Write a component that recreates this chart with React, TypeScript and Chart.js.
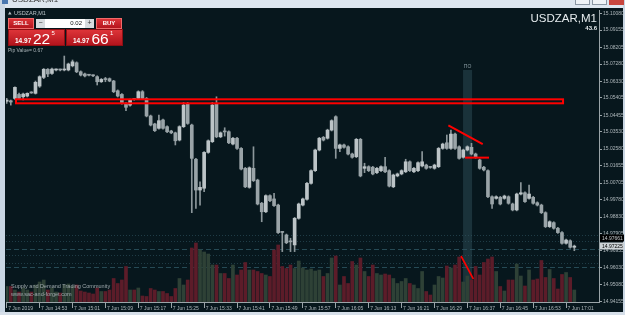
import React, { useEffect, useRef } from "react";
import { Chart, registerables } from "chart.js";

Chart.register(...registerables);

// ---- data (USDZAR, M1, 7 Jun 2019 14:45 .. 17:03) ----
const opens = [
  15.0522, 15.0525, 15.0538, 15.0560, 15.0547, 15.0551, 15.0569, 15.0566, 15.0606, 15.0654,
  15.0699, 15.0676, 15.0695, 15.0696, 15.0695, 15.0695, 15.0718, 15.0735, 15.0685, 15.0673,
  15.0667, 15.0664, 15.0658, 15.0630, 15.0643, 15.0647, 15.0634, 15.0580, 15.0560, 15.0511,
  15.0501, 15.0533, 15.0538, 15.0575, 15.0538, 15.0441, 15.0397, 15.0373, 15.0419, 15.0382,
  15.0358, 15.0348, 15.0308, 15.0382, 15.0511, 15.0391, 15.0202, 15.0032, 15.0042, 15.0240,
  15.0299, 15.0511, 15.0326, 15.0354, 15.0354, 15.0286, 15.0318, 15.0262, 15.0152, 15.0047,
  15.0152, 15.0087, 14.9959, 14.9912, 15.0001, 14.9983, 14.9949, 14.9799, 14.9784, 14.9747,
  14.9729, 14.9876, 14.9949, 14.9981, 15.0069, 15.0139, 15.0253, 15.0323, 15.0318, 15.0363,
  15.0437, 15.0262, 15.0281, 15.0271, 15.0231, 15.0216, 15.0312, 15.0152, 15.0161, 15.0158,
  15.0128, 15.0139, 15.0161, 15.0139, 15.0050, 15.0110, 15.0121, 15.0133, 15.0188, 15.0133,
  15.0139, 15.0165, 15.0170, 15.0158, 15.0152, 15.0161, 15.0262, 15.0293, 15.0262, 15.0341,
  15.0271, 15.0213, 15.0253, 15.0268, 15.0231, 15.0198, 15.0158, 15.0139, 14.9995, 14.9986,
  14.9992, 14.9986, 14.9995, 14.9955, 14.9922, 15.0010, 15.0017, 14.9986, 14.9992, 14.9962,
  14.9949, 14.9907, 14.9830, 14.9852, 14.9821, 14.9797, 14.9738, 14.9752, 14.9716,
];
const highs = [
  15.0538, 15.0529, 15.0602, 15.0568, 15.0568, 15.0569, 15.0575, 15.0634, 15.0663, 15.0703,
  15.0703, 15.0705, 15.0701, 15.0700, 15.0772, 15.0733, 15.0750, 15.0740, 15.0690, 15.0678,
  15.0671, 15.0668, 15.0663, 15.0648, 15.0654, 15.0651, 15.0638, 15.0585, 15.0565, 15.0515,
  15.0534, 15.0537, 15.0580, 15.0581, 15.0543, 15.0446, 15.0401, 15.0446, 15.0424, 15.0387,
  15.0362, 15.0352, 15.0387, 15.0516, 15.0516, 15.0396, 15.0207, 15.0078, 15.0245, 15.0309,
  15.0516, 15.0547, 15.0353, 15.0376, 15.0359, 15.0323, 15.0323, 15.0267, 15.0157, 15.0160,
  15.0271, 15.0092, 14.9964, 15.0006, 15.0006, 15.0014, 14.9954, 14.9803, 14.9789, 14.9766,
  14.9881, 14.9960, 14.9988, 15.0074, 15.0144, 15.0258, 15.0323, 15.0328, 15.0368, 15.0420,
  15.0442, 15.0286, 15.0286, 15.0276, 15.0236, 15.0317, 15.0317, 15.0180, 15.0166, 15.0163,
  15.0157, 15.0166, 15.0213, 15.0144, 15.0120, 15.0126, 15.0144, 15.0202, 15.0193, 15.0157,
  15.0188, 15.0244, 15.0175, 15.0162, 15.0175, 15.0267, 15.0291, 15.0336, 15.0363, 15.0346,
  15.0276, 15.0258, 15.0276, 15.0290, 15.0236, 15.0203, 15.0163, 15.0144, 15.0000, 15.0000,
  14.9997, 15.0004, 15.0000, 14.9960, 15.0015, 15.0073, 15.0022, 15.0060, 14.9997, 14.9967,
  14.9954, 14.9912, 14.9862, 14.9857, 14.9826, 14.9802, 14.9761, 14.9757, 14.9728,
];
const lows = [
  15.0511, 15.0501, 15.0533, 15.0533, 15.0529, 15.0546, 15.0566, 15.0562, 15.0599, 15.0647,
  15.0658, 15.0670, 15.0690, 15.0690, 15.0690, 15.0690, 15.0712, 15.0680, 15.0662, 15.0656,
  15.0662, 15.0658, 15.0612, 15.0626, 15.0630, 15.0630, 15.0570, 15.0546, 15.0506, 15.0470,
  15.0495, 15.0528, 15.0533, 15.0533, 15.0436, 15.0386, 15.0355, 15.0368, 15.0368, 15.0349,
  15.0343, 15.0281, 15.0303, 15.0377, 15.0395, 14.9907, 14.9931, 14.9949, 15.0023, 15.0235,
  15.0294, 15.0321, 15.0321, 15.0330, 15.0288, 15.0281, 15.0257, 15.0143, 15.0045, 15.0042,
  15.0079, 14.9950, 14.9857, 14.9907, 14.9968, 14.9941, 14.9792, 14.9692, 14.9736, 14.9692,
  14.9692, 14.9871, 14.9944, 14.9976, 15.0064, 15.0134, 15.0248, 15.0303, 15.0313, 15.0358,
  15.0207, 15.0244, 15.0263, 15.0226, 15.0208, 15.0211, 15.0105, 15.0128, 15.0134, 15.0116,
  15.0123, 15.0134, 15.0128, 15.0049, 15.0045, 15.0105, 15.0116, 15.0128, 15.0134, 15.0128,
  15.0134, 15.0160, 15.0147, 15.0152, 15.0147, 15.0156, 15.0257, 15.0257, 15.0257, 15.0257,
  15.0202, 15.0208, 15.0248, 15.0226, 15.0208, 15.0147, 15.0138, 14.9990, 14.9931, 14.9981,
  14.9950, 14.9981, 14.9954, 14.9917, 14.9917, 15.0005, 14.9963, 14.9981, 14.9954, 14.9944,
  14.9902, 14.9825, 14.9825, 14.9816, 14.9792, 14.9733, 14.9733, 14.9711, 14.9697,
];
const closes = [
  15.0529, 15.0518, 15.0599, 15.0538, 15.0562, 15.0566, 15.0568, 15.0627, 15.0658, 15.0699,
  15.0673, 15.0700, 15.0697, 15.0695, 15.0696, 15.0728, 15.0740, 15.0685, 15.0667, 15.0662,
  15.0666, 15.0663, 15.0630, 15.0643, 15.0642, 15.0634, 15.0575, 15.0551, 15.0511, 15.0489,
  15.0529, 15.0532, 15.0575, 15.0538, 15.0441, 15.0391, 15.0360, 15.0415, 15.0373, 15.0354,
  15.0348, 15.0304, 15.0382, 15.0501, 15.0400, 15.0207, 15.0032, 15.0047, 15.0240, 15.0304,
  15.0501, 15.0326, 15.0348, 15.0353, 15.0293, 15.0318, 15.0262, 15.0148, 15.0050, 15.0155,
  15.0084, 14.9955, 14.9912, 15.0001, 14.9973, 14.9946, 14.9797, 14.9798, 14.9741, 14.9746,
  14.9876, 14.9955, 14.9983, 15.0069, 15.0139, 15.0253, 15.0318, 15.0308, 15.0363, 15.0415,
  15.0262, 15.0281, 15.0268, 15.0231, 15.0213, 15.0312, 15.0110, 15.0161, 15.0139, 15.0121,
  15.0152, 15.0161, 15.0133, 15.0054, 15.0115, 15.0121, 15.0139, 15.0188, 15.0139, 15.0152,
  15.0183, 15.0188, 15.0152, 15.0157, 15.0170, 15.0262, 15.0286, 15.0262, 15.0341, 15.0262,
  15.0207, 15.0253, 15.0271, 15.0231, 15.0213, 15.0152, 15.0143, 14.9995, 14.9955, 14.9995,
  14.9955, 14.9999, 14.9959, 14.9922, 15.0010, 15.0017, 14.9968, 15.0010, 14.9959, 14.9949,
  14.9907, 14.9830, 14.9857, 14.9821, 14.9797, 14.9738, 14.9756, 14.9716, 14.97225,
];
const volumes = [
  31, 31, 24, 20, 28, 24, 20, 34, 40, 44, 24, 28, 20, 18, 34, 36, 32, 34, 22, 20,
  18, 16, 28, 21, 21, 24, 47, 37, 44, 71, 24, 24, 28, 12, 11, 27, 24, 21, 21, 17,
  11, 27, 47, 34, 44, 108, 118, 104, 100, 96, 74, 74, 57, 57, 47, 74, 54, 64, 79, 64,
  64, 61, 57, 54, 51, 104, 114, 71, 67, 74, 67, 82, 68, 64, 66, 62, 64, 51, 57, 88,
  92, 34, 51, 37, 81, 74, 88, 61, 51, 74, 57, 54, 56, 54, 47, 37, 41, 47, 37, 34,
  27, 61, 21, 14, 34, 51, 48, 72, 68, 74, 90, 40, 52, 44, 71, 54, 79, 86, 90, 61,
  31, 22, 44, 44, 76, 52, 32, 64, 44, 46, 83, 49, 65, 47, 26, 55, 59, 49, 24,
];

const timeLabels = [
  "7 Jun 2019", "7 Jun 14:53", "7 Jun 15:01", "7 Jun 15:09", "7 Jun 15:17", "7 Jun 15:25",
  "7 Jun 15:33", "7 Jun 15:41", "7 Jun 15:49", "7 Jun 15:57", "7 Jun 16:05", "7 Jun 16:13",
  "7 Jun 16:21", "7 Jun 16:29", "7 Jun 16:37", "7 Jun 16:45", "7 Jun 16:53", "7 Jun 17:01",
];
const timeTickIndex = [0, 8, 16, 24, 32, 40, 48, 56, 64, 72, 80, 88, 96, 104, 112, 120, 128, 136];
const priceTicks = [
  15.1008, 15.09155, 15.08205, 15.0728, 15.0633, 15.05405, 15.04455, 15.0353, 15.0258,
  15.01655, 15.00705, 14.9978, 14.9883, 14.97905, 14.96955, 14.9603, 14.9508, 14.94155,
];
const bidPrice = 14.97225;
const askPrice = 14.97661;
const levelPrices = [14.9784, 14.9751, 14.9707, 14.9673, 14.9629, 14.9607];

// drawn objects (in data units: bar index / price / volume)
const zoneIdx = [2.26, 135.26];
const zonePrice = [15.0533, 15.0511];
const trendIdx = [107.37, 115.73];
const trendPrice = [15.0389, 15.0286];
const flatIdx = [111.43, 117.26];
const flatPrice = 15.0211;
const volLineIdx = [110.46, 113.45];
const volLineVal = [92, 46];
const bandIdx = [110.95, 113.14];

const FONT = '"Liberation Sans", Arial, sans-serif';

export default function App() {
  const ref = useRef<HTMLCanvasElement>(null);

  useEffect(() => {
    const canvas = ref.current!;
    const idx = opens.map((_, i) => i);
    const bull = idx.map((i) => closes[i] >= opens[i]);

    const redGrad = (ctx: CanvasRenderingContext2D, y0: number, y1: number) => {
      const g = ctx.createLinearGradient(0, y0, 0, y1);
      g.addColorStop(0, "#e0363a");
      g.addColorStop(1, "#b0121b");
      return g;
    };

    const decor = {
      id: "decor",
      beforeDraw(chart: any) {
        const { ctx, width, height } = chart;
        ctx.save();
        ctx.fillStyle = "#07171d";
        ctx.fillRect(0, 0, width, height);
        // window frame
        ctx.fillStyle = "#dde6ef";
        ctx.fillRect(0, 0, width, 8);
        ctx.fillStyle = "#c9d6e3";
        ctx.fillRect(0, 0, 5, height);
        ctx.fillRect(623, 0, 2, height);
        ctx.fillStyle = "#d6dfe9";
        ctx.fillRect(0, 312, width, 3);
        // title (cut off by the top of the picture)
        ctx.fillStyle = "#4a78b0";
        ctx.fillRect(2, 0, 6, 4);
        ctx.fillStyle = "#333";
        ctx.font = `8px ${FONT}`;
        ctx.textBaseline = "middle";
        ctx.textAlign = "left";
        ctx.fillText("USDZAR,M1", 12, -0.5);
        // window buttons
        ctx.fillStyle = "#eef2f6";
        ctx.fillRect(575, 0, 15, 5);
        ctx.fillRect(592, 0, 15, 5);
        ctx.strokeStyle = "#8a96a3";
        ctx.lineWidth = 1;
        ctx.strokeRect(575.5, -1, 14, 5.5);
        ctx.strokeRect(592.5, -1, 14, 5.5);
        ctx.fillStyle = "#c8463e";
        ctx.fillRect(609, 0, 15, 5);
        ctx.restore();
      },
      beforeDatasetsDraw(chart: any) {
        const { ctx, chartArea, scales } = chart;
        const x = scales.x, y = scales.y;
        ctx.save();
        // level lines
        ctx.lineWidth = 1;
        levelPrices.forEach((p, k) => {
          const yy = Math.round(y.getPixelForValue(p)) + 0.5;
          ctx.strokeStyle = k % 3 === 2 ? "rgba(50,92,104,0.75)" : "rgba(45,80,92,0.65)";
          ctx.setLineDash(k % 3 === 2 ? [5, 3] : [1, 2]);
          ctx.beginPath();
          ctx.moveTo(chartArea.left, yy);
          ctx.lineTo(chartArea.right, yy);
          ctx.stroke();
        });
        ctx.setLineDash([]);
        // shaded band
        const b0 = x.getPixelForValue(bandIdx[0]);
        const b1 = x.getPixelForValue(bandIdx[1]);
        ctx.fillStyle = "rgba(50,85,95,0.45)";
        ctx.fillRect(b0, 70, b1 - b0, chartArea.bottom - 70);
        ctx.fillStyle = "#8b9da4";
        ctx.font = `5px ${FONT}`;
        ctx.textAlign = "center";
        ctx.textBaseline = "middle";
        ctx.fillText("ПО", (b0 + b1) / 2, 66.5);
        ctx.restore();
      },
      afterDatasetsDraw(chart: any) {
        const { ctx, scales } = chart;
        const x = scales.x, y = scales.y, yv = scales.yv;
        ctx.save();
        ctx.strokeStyle = "#ff0000";
        ctx.lineWidth = 2;
        const zx0 = x.getPixelForValue(zoneIdx[0]);
        const zx1 = x.getPixelForValue(zoneIdx[1]);
        const zy0 = y.getPixelForValue(zonePrice[0]);
        const zy1 = y.getPixelForValue(zonePrice[1]);
        ctx.strokeRect(zx0, zy0, zx1 - zx0, zy1 - zy0);
        ctx.beginPath();
        ctx.moveTo(x.getPixelForValue(trendIdx[0]), y.getPixelForValue(trendPrice[0]));
        ctx.lineTo(x.getPixelForValue(trendIdx[1]), y.getPixelForValue(trendPrice[1]));
        ctx.stroke();
        ctx.beginPath();
        ctx.moveTo(x.getPixelForValue(flatIdx[0]), y.getPixelForValue(flatPrice));
        ctx.lineTo(x.getPixelForValue(flatIdx[1]), y.getPixelForValue(flatPrice));
        ctx.stroke();
        ctx.lineWidth = 1.6;
        ctx.beginPath();
        ctx.moveTo(x.getPixelForValue(volLineIdx[0]), yv.getPixelForValue(volLineVal[0]));
        ctx.lineTo(x.getPixelForValue(volLineIdx[1]), yv.getPixelForValue(volLineVal[1]));
        ctx.stroke();
        ctx.restore();
      },
      afterDraw(chart: any) {
        const { ctx, scales } = chart;
        const y = scales.y;
        ctx.save();
        // top-left symbol header
        ctx.fillStyle = "#b8c2c6";
        ctx.beginPath();
        ctx.moveTo(8, 14.5);
        ctx.lineTo(9.8, 11.5);
        ctx.lineTo(11.6, 14.5);
        ctx.closePath();
        ctx.fill();
        ctx.font = `5.5px ${FONT}`;
        ctx.textAlign = "left";
        ctx.textBaseline = "middle";
        ctx.fillText("USDZAR,M1", 14, 13.3);

        // one-click trading panel
        ctx.fillStyle = redGrad(ctx, 18, 29);
        ctx.fillRect(8, 18, 26, 11);
        ctx.fillRect(96, 18, 26, 11);
        ctx.strokeStyle = "#f06a6a";
        ctx.lineWidth = 1;
        ctx.strokeRect(8.5, 18.5, 25, 10);
        ctx.strokeRect(96.5, 18.5, 25, 10);
        ctx.fillStyle = "#d8dcdf";
        ctx.fillRect(36, 19, 9, 9);
        ctx.fillRect(85, 19, 9, 9);
        ctx.fillStyle = "#ffffff";
        ctx.fillRect(45, 19, 40, 9);
        ctx.fillStyle = "#ffffff";
        ctx.font = `bold 6px ${FONT}`;
        ctx.textAlign = "center";
        ctx.fillText("SELL", 21, 23.8);
        ctx.fillText("BUY", 109, 23.8);
        ctx.fillStyle = "#333";
        ctx.font = `7px ${FONT}`;
        ctx.fillText("−", 40.5, 23.5);
        ctx.fillText("+", 89.5, 23.5);
        ctx.textAlign = "right";
        ctx.font = `6px ${FONT}`;
        ctx.fillStyle = "#111";
        ctx.fillText("0.02", 82, 23.8);

        ctx.fillStyle = redGrad(ctx, 29, 46);
        ctx.fillRect(8, 29, 57, 17);
        ctx.fillRect(66, 29, 57, 17);
        ctx.strokeStyle = "#8e0f14";
        ctx.strokeRect(8.5, 29.5, 56, 16);
        ctx.strokeRect(66.5, 29.5, 56, 16);
        ctx.fillStyle = "#ffffff";
        ctx.textAlign = "left";
        ctx.textBaseline = "alphabetic";
        ctx.font = `bold 6.5px ${FONT}`;
        ctx.fillText("14.97", 15, 43.3);
        ctx.fillText("14.97", 73, 43.3);
        ctx.font = `15.5px ${FONT}`;
        ctx.fillText("22", 33, 43.6);
        ctx.fillText("66", 91.5, 43.6);
        ctx.font = `6px ${FONT}`;
        ctx.fillText("5", 51.5, 35.2);
        ctx.fillText("1", 110, 35.2);

        ctx.fillStyle = "#a9b3b7";
        ctx.font = `5px ${FONT}`;
        ctx.textBaseline = "middle";
        ctx.fillText("Pip Value= 0.67", 8, 50.3);

        // symbol / timeframe caption
        ctx.fillStyle = "#e6ecee";
        ctx.textAlign = "right";
        ctx.font = `11.5px ${FONT}`;
        ctx.fillText("USDZAR,M1", 597, 18.6);
        ctx.font = `bold 6px ${FONT}`;
        ctx.fillText("43.6", 597, 28.4);

        // watermark text
        ctx.textAlign = "left";
        ctx.fillStyle = "#9fa9ad";
        ctx.font = `5.5px ${FONT}`;
        ctx.fillText("Supply and Demand Trading Community", 11, 286.3);
        ctx.fillText("www.sac-and-forget.com", 11, 294.3);

        // ask / bid price labels
        const ay = Math.round(y.getPixelForValue(askPrice));
        ctx.fillStyle = "#000000";
        ctx.fillRect(600, ay - 3.5, 24, 7);
        ctx.fillStyle = "#c3cacd";
        ctx.font = `5px ${FONT}`;
        ctx.fillText(askPrice.toFixed(5), 602, ay + 0.3);
        const by = Math.round(y.getPixelForValue(bidPrice));
        ctx.fillStyle = "#cfd4d7";
        ctx.fillRect(600, by - 3.5, 24, 7);
        ctx.fillStyle = "#000000";
        ctx.fillText(bidPrice.toFixed(5), 602, by + 0.3);
        ctx.restore();
      },
    };

    const chart = new Chart(canvas, {
      type: "bar",
      data: {
        datasets: [
          {
            label: "body",
            data: idx.map((i) => ({ x: i, y: [opens[i], closes[i]] })),
            backgroundColor: idx.map((i) => (bull[i] ? "#bcc4c7" : "#9aa4a8")),
            barThickness: 3,
            minBarLength: 1,
            grouped: false,
            yAxisID: "y",
          } as any,
          {
            label: "wick",
            data: idx.map((i) => ({ x: i, y: [lows[i], highs[i]] })),
            backgroundColor: "#8c979b",
            barThickness: 1,
            minBarLength: 1,
            grouped: false,
            yAxisID: "y",
          } as any,
          {
            label: "volume",
            data: idx.map((i) => ({ x: i, y: volumes[i] })),
            backgroundColor: idx.map((i) => (bull[i] ? "#2e4136" : "#5c1c29")),
            barThickness: 3,
            grouped: false,
            yAxisID: "yv",
          } as any,
        ],
      },
      options: {
        responsive: false,
        animation: false,
        devicePixelRatio: 1,
        events: [],
        layout: { padding: { left: 6, top: 10, right: 0, bottom: 0 } },
        plugins: { legend: { display: false }, tooltip: { enabled: false } },
        scales: {
          x: {
            type: "linear",
            min: -0.17,
            max: 144.0,
            offset: false,
            afterBuildTicks: (s: any) => {
              s.ticks = timeTickIndex.map((v) => ({ value: v }));
            },
            afterFit: (s: any) => {
              s.height = 13;
            },
            ticks: {
              autoSkip: false,
              maxRotation: 0,
              align: "start",
              padding: -2.5,
              labelOffset: 1.5,
              color: "#aeb7bb",
              font: { family: FONT, size: 5 },
              callback: (_v: any, i: number) => timeLabels[i] ?? "",
            },
            grid: { drawOnChartArea: false, offset: false, tickLength: 6, color: "#9aa4a8" },
            border: { color: "#9aa4a8" },
          } as any,
          y: {
            type: "linear",
            position: "right",
            min: 14.94138,
            max: 15.10262,
            afterBuildTicks: (s: any) => {
              s.ticks = priceTicks.map((v) => ({ value: v }));
            },
            afterFit: (s: any) => {
              s.width = 26;
            },
            ticks: {
              autoSkip: false,
              padding: 1,
              crossAlign: "near",
              color: "#aeb7bb",
              font: { family: FONT, size: 5 },
              callback: (v: any) => Number(v).toFixed(5),
            },
            grid: { drawOnChartArea: false, tickLength: 3, color: "#9aa4a8" },
            border: { color: "#9aa4a8" },
          } as any,
          yv: {
            type: "linear",
            display: false,
            min: 0,
            max: 584,
          },
        },
      },
      plugins: [decor],
    });
    return () => chart.destroy();
  }, []);

  return (
    <div style={{ position: "fixed", left: 0, top: 0, width: 625, height: 315, overflow: "hidden" }}>
      <canvas ref={ref} width={625} height={315} style={{ display: "block", width: 625, height: 315 }} />
    </div>
  );
}
